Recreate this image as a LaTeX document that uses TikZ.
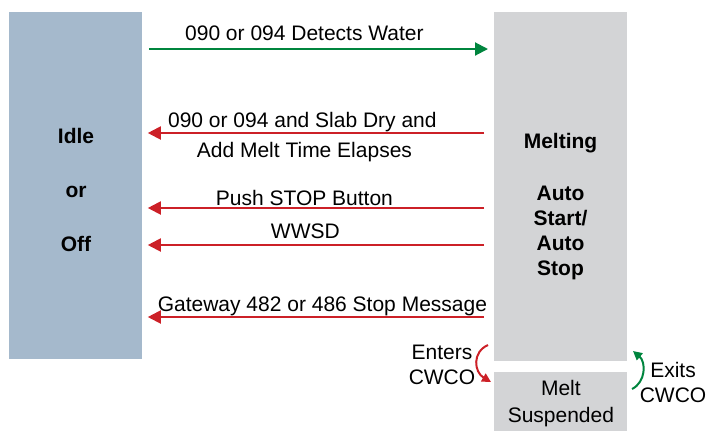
\documentclass[tikz,border=0pt]{standalone}
\usepackage{fontspec}
\setmainfont{Liberation Sans}
\usetikzlibrary{arrows.meta,positioning}

\definecolor{idleblue}{RGB}{165,185,204}
\definecolor{meltgray}{RGB}{211,212,214}
\definecolor{gogreen}{RGB}{0,133,62}
\definecolor{backred}{RGB}{204,32,39}

\tikzset{
  statebox/.style={draw=none, anchor=north west, minimum width=66.5pt, inner sep=0pt, align=center},
  statetxt/.style={align=center, font=\fontsize{10.5}{13}\bfseries\selectfont},
  trans/.style={line width=1pt, -{Triangle[length=6.5pt,width=6.5pt]}},
  gotrans/.style={trans, gogreen, shorten <=3pt, shorten >=3pt},
  backtrans/.style={trans, backred, shorten <=5pt, shorten >=2.5pt},
  cwco/.style={line width=1pt, -{Triangle[length=4.5pt,width=4.5pt]}}
}

\begin{document}
\begin{tikzpicture}[x=0.5pt, y=-0.5pt, every node/.style={text=black, font=\fontsize{10.5}{12.5}\selectfont}]
  \useasboundingbox (0,0) rectangle (722,430);

  % states
  \node[statebox, fill=idleblue, minimum height=173.5pt] (idle) at (9,12) {};
  \node[statebox, fill=meltgray, minimum height=174.5pt] (melt) at (494,12) {};
  \node[statebox, fill=meltgray, minimum height=31pt] (susp) at (494,372) {Melt\\[1pt]Suspended};

  \node[statetxt] (idletxt) at (76,190) {Idle\\[14pt]or\\[14pt]Off};
  \node[statetxt, font=\fontsize{10.5}{12.5}\bfseries\selectfont] (melttxt) at (560.5,206.5) {Melting\\[13.5pt]Auto\\Start/\\Auto\\Stop};

  % transitions
  \draw[gotrans] (idle.east |- 0,49) -- node[midway, anchor=base, yshift=4.5pt, xshift=-7pt] {090 or 094 Detects Water} (melt.west |- 0,49);
  \draw[backtrans] (melt.west |- 0,133) -- node[midway, anchor=base, yshift=3pt, xshift=-8pt] {090 or 094 and Slab Dry and}
    node[midway, anchor=base, yshift=-12pt, xshift=-7pt] {Add Melt Time Elapses} (idle.east |- 0,133);
  \draw[backtrans] (melt.west |- 0,208) -- node[midway, anchor=base, yshift=1.5pt, xshift=-7pt] {Push STOP Button} (idle.east |- 0,208);
  \draw[backtrans] (melt.west |- 0,245) -- node[midway, anchor=base, yshift=3.5pt, xshift=-6.5pt] {WWSD} (idle.east |- 0,245);
  \draw[backtrans] (melt.west |- 0,317) -- node[midway, anchor=base, yshift=3pt, xshift=2pt] {Gateway 482 or 486 Stop Message} (idle.east |- 0,317);

  % cold weather cut-out
  \coordinate (enterA) at (488,345);
  \coordinate (enterB) at (491,382);
  \coordinate (exitA) at (632,389);
  \coordinate (exitB) at (633,351);
  \draw[cwco, backred] (enterA) .. controls (472,352) and (474,372) .. (enterB);
  \draw[cwco, gogreen] (exitA) .. controls (646,382) and (646,362) .. (exitB);
  \node[align=center] (enters) at (442,365) {Enters\\CWCO};
  \node[align=center] (exits) at (673,382) {Exits\\CWCO};
\end{tikzpicture}
\end{document}
